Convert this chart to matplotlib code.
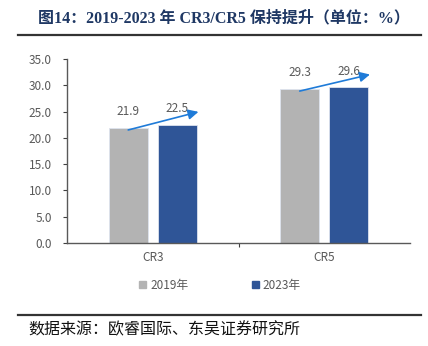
import matplotlib
matplotlib.use('Agg')
import matplotlib.pyplot as plt
import numpy as np
from matplotlib.lines import Line2D
from matplotlib.patches import Patch

plt.rcParams['font.family'] = ['Noto Sans CJK SC', 'DejaVu Sans']

# 데이터
categories = ['CR3', 'CR5']
years = ['2019年', '2023年']
vals_2019 = [21.9, 29.3]
vals_2023 = [22.5, 29.6]
y_ticks = [0, 5, 10, 15, 20, 25, 30, 35]

title = '图14：2019-2023 年 CR3/CR5 保持提升（单位：%）'
source = '数据来源：欧睿国际、东吴证券研究所'

gray = '#B3B3B3'
blue = '#2F5597'
txt = '#595959'
fs = 8.5

fig = plt.figure(figsize=(4.28, 3.46), dpi=100)
ax = fig.add_axes([67/428, 1-243/346, 343/428, 184/346])

x = np.arange(len(categories))
w = 0.227
off = 0.143
ax.bar(x - off, vals_2019, w, color=gray, edgecolor='#DDE3EE', linewidth=0.6, label=years[0])
ax.bar(x + off, vals_2023, w, color=blue, edgecolor='#DDE3EE', linewidth=0.6, label=years[1])

for xi, v in zip(x - off, vals_2019):
    ax.annotate(f'{v:.1f}', (xi, v), xytext=(0, 7), textcoords='offset points',
                ha='center', va='bottom', fontsize=fs, color=txt)
for xi, v in zip(x + off, vals_2023):
    ax.annotate(f'{v:.1f}', (xi, v), xytext=(0, 7), textcoords='offset points',
                ha='center', va='bottom', fontsize=fs, color=txt)

# 증가 화살표
for xi, v0, v1 in zip(x, vals_2019, vals_2023):
    ax.annotate('', xy=(xi + off + w/2 + 0.01, v1 + 2.45), xytext=(xi - off, v0 - 0.4),
                arrowprops=dict(arrowstyle='-|>', color='#1F7BD8', lw=1.2,
                                mutation_scale=15, shrinkA=0, shrinkB=0))

ax.set_xlim(-0.5, 1.5)
ax.set_ylim(0, 35)
ax.set_yticks(y_ticks)
ax.set_yticklabels([f'{t:.1f}' for t in y_ticks])
ax.set_xticks(x)
ax.set_xticklabels(categories)
ax.set_xticks([0.5], minor=True)
ax.tick_params(axis='x', which='major', length=0, pad=6, labelsize=fs, labelcolor=txt)
ax.tick_params(axis='x', which='minor', length=3, color='#404040', width=0.8)
ax.tick_params(axis='y', length=3, color='#404040', width=0.8, labelsize=fs, labelcolor=txt, pad=8)
for s in ['top', 'right']:
    ax.spines[s].set_visible(False)
for s in ['left', 'bottom']:
    ax.spines[s].set_color('#595959')
    ax.spines[s].set_linewidth(1.0)

handles = [Patch(color=gray), Patch(color=blue)]
fig.legend(handles, years, loc='center', bbox_to_anchor=(220/428, 1-285/346), ncol=2,
           frameon=False, fontsize=fs, labelcolor=txt, handlelength=0.6, handleheight=0.6,
           handletextpad=0.3, columnspacing=5.4)

fig.text(224/428, 1-18/346, title, ha='center', va='center', fontsize=11.5,
         fontweight='bold', color='#1F3864', family=['Liberation Serif', 'Noto Sans CJK SC'])
fig.add_artist(Line2D([18/428, 421/428], [1-35/346]*2, color='#333333', lw=1.6))
fig.add_artist(Line2D([18/428, 421/428], [1-315/346]*2, color='#333333', lw=1.6))
fig.text(28/428, 1-330/346, source, ha='left', va='center', fontsize=11.5, color='#111111')

fig.savefig('out.png', dpi=100)
